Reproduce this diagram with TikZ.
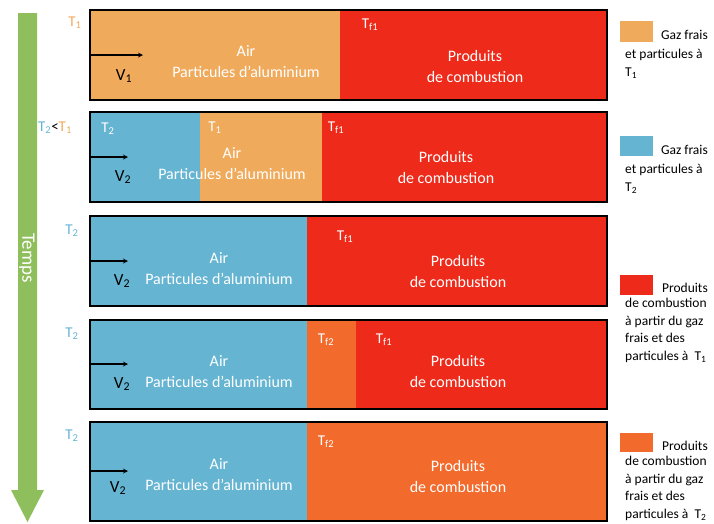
\documentclass[tikz,border=0pt]{standalone}
\usepackage{fontspec}
\setmainfont{Carlito}
\definecolor{corange}{HTML}{F0AA5C}
\definecolor{cblue}{HTML}{64B4D2}
\definecolor{cred}{HTML}{EE2A1A}
\definecolor{cdark}{HTML}{F26A2C}
\definecolor{cgreen}{HTML}{8EBF5C}
\begin{document}
\begin{tikzpicture}[x=1pt,y=-1pt,
  wt/.style={text=white,font=\fontsize{16}{21}\selectfont,align=center},
  lab/.style={text=white,font=\fontsize{15}{17}\selectfont},
  side/.style={font=\fontsize{15}{17}\selectfont},
  legfirst/.style={font=\fontsize{13.5}{18}\selectfont,anchor=base east,inner sep=0pt},
  leg/.style={font=\fontsize{13.5}{18}\selectfont,align=left,anchor=base west,inner sep=0pt},
  legb/.style={font=\fontsize{13.5}{17.5}\selectfont,align=left,anchor=base west,inner sep=0pt},
  vel/.style={font=\fontsize{17}{19}\selectfont},
  flow/.style={-stealth,line width=1.2pt},
  frame/.style={draw=black,line width=1.6pt}]
\useasboundingbox (0,0) rectangle (714,523);
% time arrow
\fill[cgreen] (18,13) -- (37,13) -- (37,490) -- (44,490) -- (27.5,522) -- (11,490) -- (18,490) -- cycle;
\node[text=white,rotate=-90,font=\fontsize{19}{21}\selectfont] (temps) at (27,258) {Temps};
% row 1
\fill[corange] (90,10) rectangle (340,100);
\fill[cred] (340,10) rectangle (607,100);
\draw[frame] (90,10) rectangle (607,100);
\node[side,text=corange] (r1t) at (75,23) {T\textsubscript{1}};
\coordinate (a1s) at (90,55); \coordinate (a1e) at (143,55);
\draw[flow] (a1s) -- (a1e);
\node[vel] (v1) at (124,76) {V\textsubscript{1}};
\node[wt] (air1) at (246,62) {Air\\Particules d’aluminium};
\node[lab] (tf11) at (370,25) {T\textsubscript{f1}};
\node[wt] (pr1) at (475,66) {Produits\\de combustion};
% row 2
\fill[cblue] (90,112) rectangle (200,202);
\fill[corange] (200,112) rectangle (322,202);
\fill[cred] (322,112) rectangle (607,202);
\draw[frame] (90,112) rectangle (607,202);
\node[side] (r2t) at (55,128) {\textcolor{cblue}{T\textsubscript{2}}<\textcolor{corange}{T\textsubscript{1}}};
\node[lab] (t22) at (108,129) {T\textsubscript{2}};
\node[lab] (t12) at (215,128) {T\textsubscript{1}};
\node[lab] (tf12) at (336,128) {T\textsubscript{f1}};
\coordinate (a2s) at (90,157); \coordinate (a2e) at (128,157);
\draw[flow] (a2s) -- (a2e);
\node[vel] (v2) at (123,177) {V\textsubscript{2}};
\node[wt] (air2) at (232,164) {Air\\Particules d’aluminium};
\node[wt] (pr2) at (446,167) {Produits\\de combustion};
% row 3
\fill[cblue] (90,216) rectangle (307,306);
\fill[cred] (307,216) rectangle (607,306);
\draw[frame] (90,216) rectangle (607,306);
\node[side,text=cblue] (r3t) at (72,231) {T\textsubscript{2}};
\coordinate (a3s) at (90,261); \coordinate (a3e) at (128,261);
\draw[flow] (a3s) -- (a3e);
\node[vel] (v3) at (122,281) {V\textsubscript{2}};
\node[wt] (air3) at (219,269) {Air\\Particules d’aluminium};
\node[lab] (tf13) at (345,237) {T\textsubscript{f1}};
\node[wt] (pr3) at (458,271) {Produits\\de combustion};
% row 4
\fill[cblue] (90,320) rectangle (307,409);
\fill[cdark] (307,320) rectangle (356,409);
\fill[cred] (356,320) rectangle (607,409);
\draw[frame] (90,320) rectangle (607,409);
\node[side,text=cblue] (r4t) at (72,334) {T\textsubscript{2}};
\coordinate (a4s) at (90,364); \coordinate (a4e) at (128,364);
\draw[flow] (a4s) -- (a4e);
\node[vel] (v4) at (122,384) {V\textsubscript{2}};
\node[wt] (air4) at (219,372) {Air\\Particules d’aluminium};
\node[lab] (tf24) at (326,340) {T\textsubscript{f2}};
\node[lab] (tf14) at (384,340) {T\textsubscript{f1}};
\node[wt] (pr4) at (458,371) {Produits\\de combustion};
% row 5
\fill[cblue] (90,422) rectangle (307,521);
\fill[cdark] (307,422) rectangle (607,521);
\draw[frame] (90,422) rectangle (607,521);
\node[side,text=cblue] (r5t) at (72,436) {T\textsubscript{2}};
\coordinate (a5s) at (90,471); \coordinate (a5e) at (128,471);
\draw[flow] (a5s) -- (a5e);
\node[vel] (v5) at (118,488) {V\textsubscript{2}};
\node[wt] (air5) at (219,475) {Air\\Particules d’aluminium};
\node[lab] (tf25) at (326,442) {T\textsubscript{f2}};
\node[wt] (pr5) at (458,476) {Produits\\de combustion};
% legend
\fill[corange] (620,21) rectangle (653,42);
\node[legfirst] (l1a) at (708,39) {Gaz frais};
\node[leg] (l1b) at (625,76) {et particules à\\T\textsubscript{1}};
\fill[cblue] (620,136) rectangle (653,156);
\node[legfirst] (l2a) at (708,154) {Gaz frais};
\node[leg] (l2b) at (625,191) {et particules à\\T\textsubscript{2}};
\fill[cred] (620,275) rectangle (653,295);
\node[legfirst] (l3a) at (708,292) {Produits};
\node[legb] (l3b) at (625,360) {de combustion\\à partir du gaz\\frais et des\\particules à\ \ T\textsubscript{1}};
\fill[cdark] (620,433) rectangle (653,452);
\node[legfirst] (l4a) at (708,450) {Produits};
\node[legb] (l4b) at (625,518) {de combustion\\à partir du gaz\\frais et des\\particules à\ \ T\textsubscript{2}};
\end{tikzpicture}
\end{document}
